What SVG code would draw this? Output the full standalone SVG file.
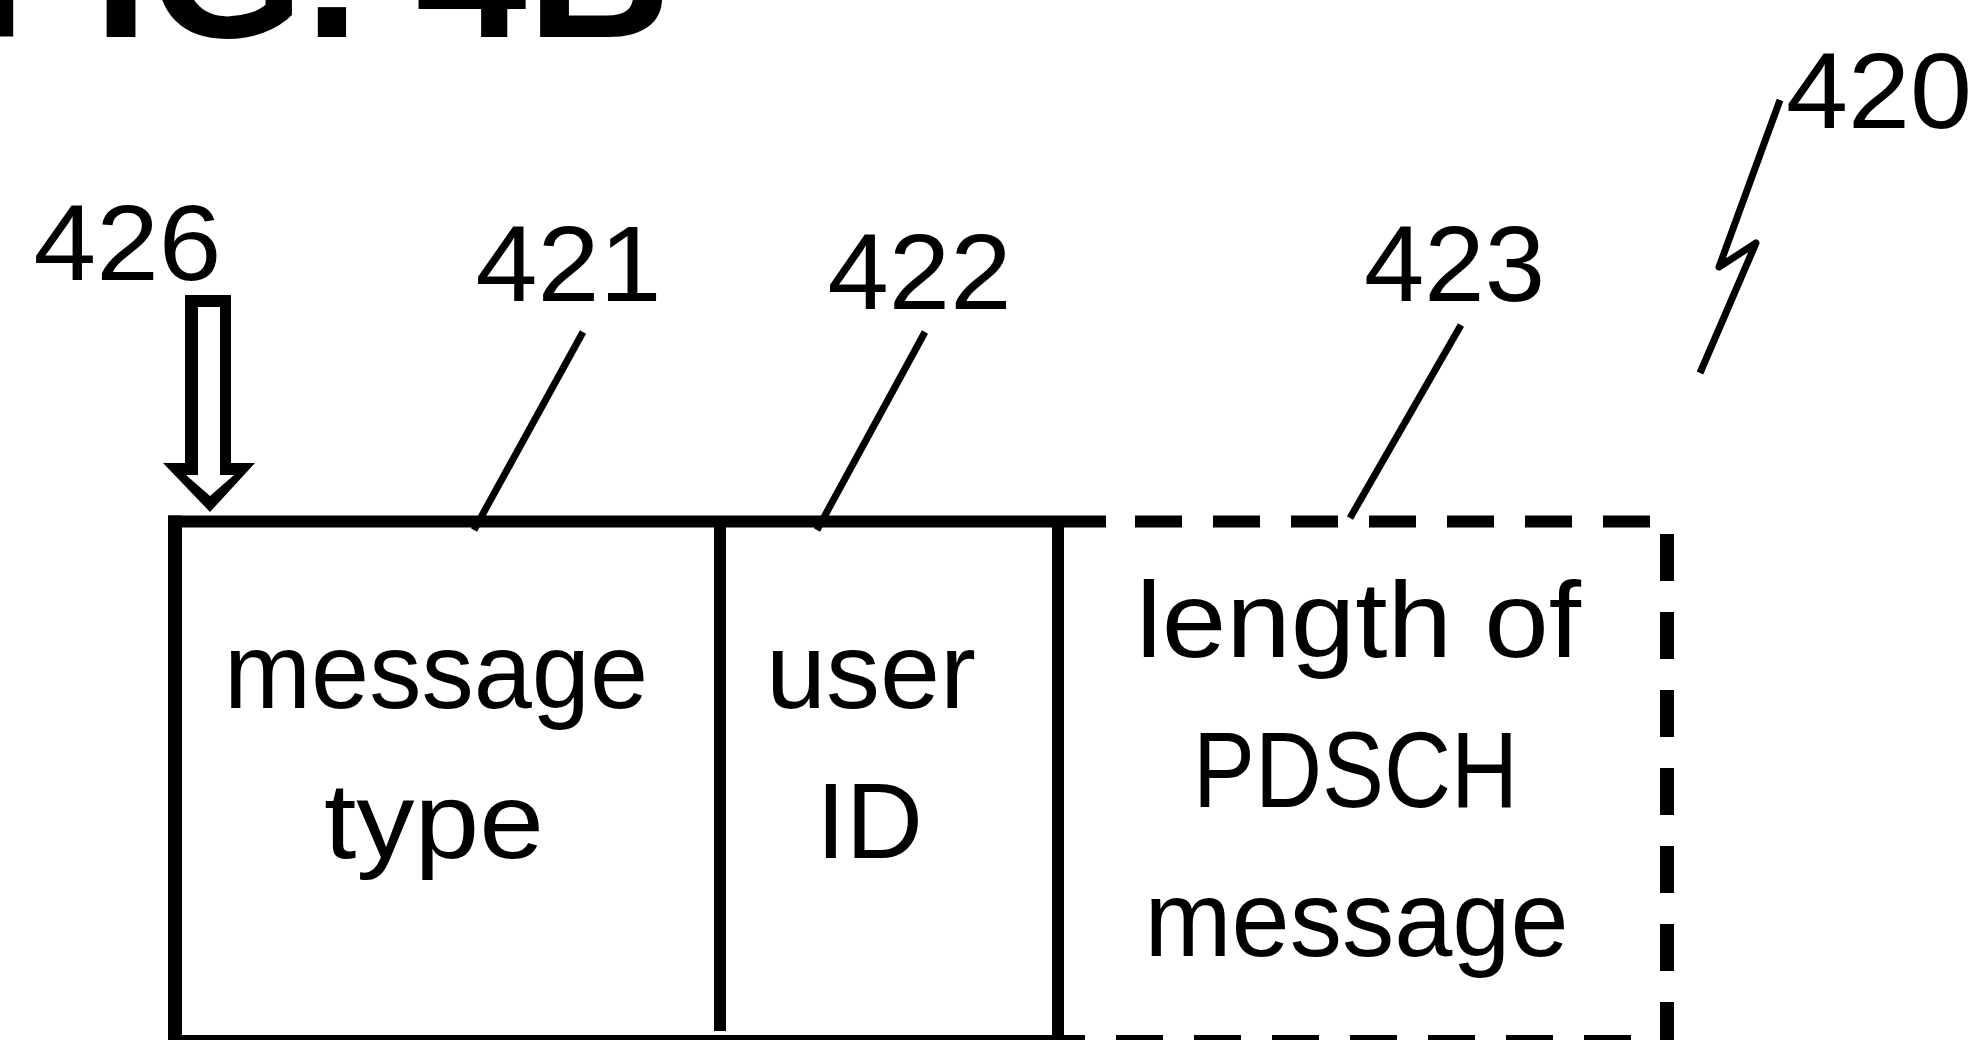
<svg xmlns="http://www.w3.org/2000/svg" width="1986" height="1040" viewBox="0 0 1986 1040">
<style>
.t{font-family:"Liberation Sans",Arial,sans-serif;font-size:107px;fill:#000;text-anchor:middle}
.title{font-family:"Liberation Sans",Arial,sans-serif;font-weight:bold;font-size:200px;fill:#000}
.b{stroke:#000;fill:none;stroke-linecap:butt}
.d{stroke:#000;fill:none;stroke-dasharray:47 31}
.ld{stroke:#000;fill:none;stroke-width:7;stroke-linecap:butt;stroke-linejoin:round}
</style>
<rect width="1986" height="1040" fill="#fff"/>
<text id="title" class="title" x="-29" y="37">FIG. 4B</text>

<g id="cell-message-type">
<line class="b" x1="175" y1="515.5" x2="175" y2="1046" stroke-width="14"/>
<line class="b" x1="168" y1="521.5" x2="1106" y2="521.5" stroke-width="12"/>
<line class="b" x1="168" y1="1041" x2="1085" y2="1041" stroke-width="12"/>
<line class="b" x1="720" y1="521" x2="720" y2="1031" stroke-width="12"/>
<text class="t" x="436" y="708" textLength="424" lengthAdjust="spacingAndGlyphs">message</text>
<text class="t" x="434" y="858" textLength="220" lengthAdjust="spacingAndGlyphs">type</text>
</g>
<g id="cell-user-id">
<line class="b" x1="1058" y1="521" x2="1058" y2="1046" stroke-width="12"/>
<text class="t" x="871" y="708" textLength="210" lengthAdjust="spacingAndGlyphs">user</text>
<text class="t" x="869.5" y="858">ID</text>
</g>
<g id="cell-pdsch-length">
<line class="d" x1="1135" y1="521.5" x2="1652" y2="521.5" stroke-width="12"/>
<line class="d" x1="1667" y1="534" x2="1667" y2="1046" stroke-width="14"/>
<line class="d" x1="1116" y1="1041" x2="1634" y2="1041" stroke-width="12"/>
<text class="t" x="1358.5" y="657" textLength="445" lengthAdjust="spacingAndGlyphs">length of</text>
<text class="t" x="1355.5" y="807" textLength="325" lengthAdjust="spacingAndGlyphs">PDSCH</text>
<text class="t" x="1356.5" y="956" textLength="424" lengthAdjust="spacingAndGlyphs">message</text>
</g>

<g id="labels">
<text id="label-426" class="t" x="127.5" y="280" textLength="188" lengthAdjust="spacingAndGlyphs">426</text>
<text id="label-421" class="t" x="568.5" y="301" textLength="186" lengthAdjust="spacingAndGlyphs">421</text>
<text id="label-422" class="t" x="919.5" y="309" textLength="184" lengthAdjust="spacingAndGlyphs">422</text>
<text id="label-423" class="t" x="1454.5" y="301" textLength="181" lengthAdjust="spacingAndGlyphs">423</text>
<text id="label-420" class="t" x="1879" y="128" textLength="186" lengthAdjust="spacingAndGlyphs">420</text>
</g>

<g id="connectors">
<path id="arrow-426" fill="#000" fill-rule="evenodd" d="M185,295 H231 V463 H255 L210,512 L163,463 H185 Z M198,307 V475 H186 L210,496 L234,475 H220 V307 Z"/>
<line class="ld" x1="583" y1="332" x2="474" y2="530"/>
<line class="ld" x1="925" y1="332" x2="817" y2="530"/>
<line class="ld" x1="1461" y1="325" x2="1350" y2="518"/>
<polyline class="ld" points="1780,100 1719,267 1756,243 1700,373"/>
</g>
</svg>
